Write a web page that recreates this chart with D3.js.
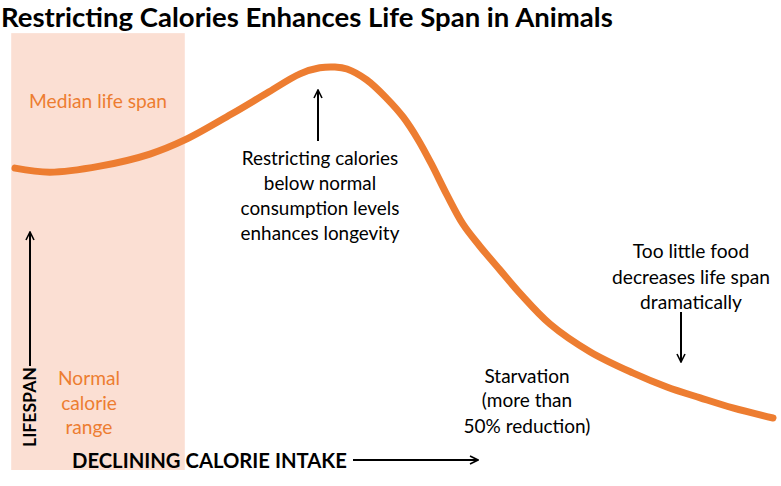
<!DOCTYPE html>
<html>
<head>
<meta charset="utf-8">
<script src="https://cdn.jsdelivr.net/npm/d3@7"></script>
<style>
  html, body { margin: 0; padding: 0; background: #fff; }
  svg { display: block; }
  text { font-family: Lato, "Open Sans", sans-serif; }
</style>
</head>
<body>
<svg id="chart" width="781" height="486"></svg>
<script>
// ---- data ----
const title = "Restricting Calories Enhances Life Span in Animals";
const intake = [0, 4.6, 11.2, 17.8, 22.4, 28.8, 33.2, 37.6, 40.2, 42.2, 43.8, 46.4, 49.1, 51.2, 53.2, 55.0, 57.0, 59.1, 61.3, 64.0, 66.6, 70.6, 75.9, 81.5, 86.0, 90.4, 94.7, 100];
const lifespan = [74.9, 73.9, 75.4, 78.4, 81.9, 88.6, 93.5, 98.3, 99.8, 100, 99.5, 96.8, 92.1, 87.6, 81.9, 75.7, 68.2, 61.0, 55.6, 49.6, 43.9, 36.2, 29.3, 24.1, 20.6, 17.9, 15.4, 12.9];
const normalRange = [-0.5, 22.4];
const bandTop = 108.4;
const medianLabel = ["Median life span"];
const normalLabel = ["Normal", "calorie", "range"];
const restrictLabel = ["Restricting calories", "below normal", "consumption levels", "enhances longevity"];
const tooLittleLabel = ["Too little food", "decreases life span", "dramatically"];
const starvationLabel = ["Starvation", "(more than", "50% reduction)"];
const yAxisLabel = "LIFESPAN";
const xAxisLabel = "DECLINING CALORIE INTAKE";

const orange = "#ED7D31";
const svg = d3.select("#chart");
const x = d3.scaleLinear().domain([0, 100]).range([15, 773]);
const y = d3.scaleLinear().domain([0, 100]).range([470, 67]);

// marker
const defs = svg.append("defs");
defs.append("marker").attr("id", "arr").attr("viewBox", "0 0 10 10")
  .attr("refX", 9).attr("refY", 5).attr("markerWidth", 5).attr("markerHeight", 5)
  .attr("orient", "auto-start-reverse").attr("markerUnits", "strokeWidth")
  .append("path").attr("d", "M1,1 L9,5 L1,9").attr("fill", "none")
  .attr("stroke", "#000").attr("stroke-width", 1.6).attr("stroke-linejoin", "miter");

// band
svg.append("rect")
  .attr("x", x(normalRange[0])).attr("width", x(normalRange[1]) - x(normalRange[0]))
  .attr("y", y(bandTop)).attr("height", y(0) - y(bandTop))
  .attr("fill", "#FBDFD3");

// curve
const pts = intake.map((d, i) => [d, lifespan[i]]);
svg.append("path").datum(pts)
  .attr("d", d3.line().x(d => x(d[0])).y(d => y(d[1])).curve(d3.curveCatmullRom.alpha(0.5)))
  .attr("fill", "none").attr("stroke", orange).attr("stroke-width", 7)
  .attr("stroke-linecap", "round").attr("stroke-linejoin", "round");

// helper: multi-line text fitted to a target width
function block(lines, cx, baselines, targetW, opts) {
  const g = svg.append("g");
  const t = g.selectAll("text").data(lines).join("text")
    .attr("x", cx).attr("y", (d, i) => baselines[i])
    .attr("text-anchor", opts.anchor || "middle")
    .attr("fill", opts.fill || "#000")
    .attr("font-weight", opts.weight || "normal")
    .attr("font-size", 20)
    .text(d => d);
  let w = 0;
  t.each(function () { w = Math.max(w, this.getComputedTextLength()); });
  t.attr("font-size", 20 * targetW / w);
  return g;
}

// title
block([title], 1, [27], 612, {anchor: "start", weight: "bold"});

// labels
block(medianLabel, 98, [108], 138, {fill: orange});
block(normalLabel, 89, [385, 410, 434], 62, {fill: orange});
block(restrictLabel, 320, [165, 190, 215, 240], 159, {});
block(tooLittleLabel, 691, [258, 284, 309], 158, {});
block(starvationLabel, 527, [383, 407, 433], 127, {});

// x-axis label
block([xAxisLabel], 72, [468], 275, {anchor: "start", weight: "bold"});
// y-axis label (rotated)
const yl = svg.append("g").attr("transform", "translate(36,447) rotate(-90)");
const ylt = yl.append("text").attr("x", 0).attr("y", 0).attr("font-weight", "bold")
  .attr("font-size", 20).text(yAxisLabel);
ylt.attr("font-size", 20 * 80 / ylt.node().getComputedTextLength());

// arrows
function arrow(x1, y1, x2, y2) {
  svg.append("line").attr("x1", x1).attr("y1", y1).attr("x2", x2).attr("y2", y2)
    .attr("stroke", "#000").attr("stroke-width", 2).attr("marker-end", "url(#arr)");
}
arrow(30, 366, 30, 232);
arrow(353, 460, 478, 460);
arrow(318, 141, 318, 90);
arrow(681, 312, 681, 362);
</script>
</body>
</html>
